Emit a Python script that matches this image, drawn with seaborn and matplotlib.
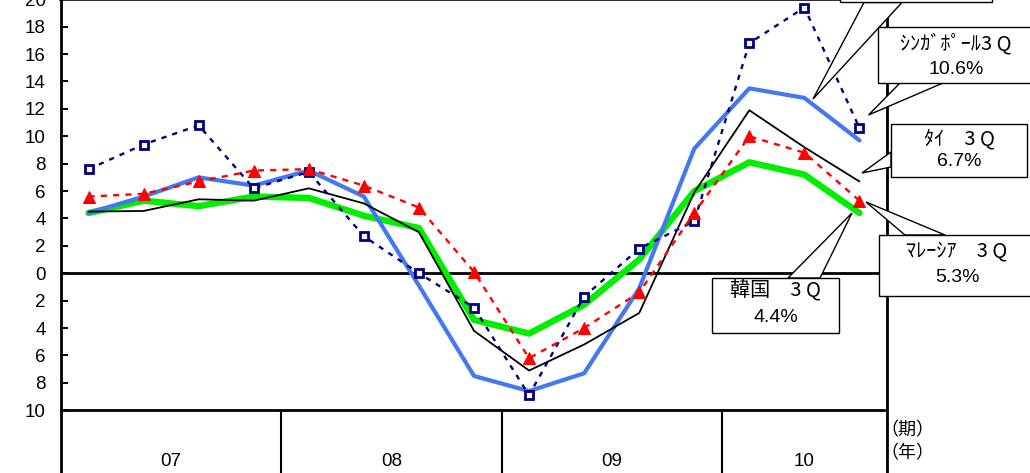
import matplotlib
matplotlib.use('Agg')
import matplotlib.pyplot as plt
import seaborn as sns
import pandas as pd
from matplotlib.patches import Polygon, Rectangle

# ---------------- data ----------------
quarters = ['07Q1', '07Q2', '07Q3', '07Q4', '08Q1', '08Q2', '08Q3', '08Q4',
            '09Q1', '09Q2', '09Q3', '09Q4', '10Q1', '10Q2', '10Q3']
years = ['07', '08', '09', '10']
year_quarters = [4, 4, 4, 3]

singapore = [7.6, 9.4, 10.8, 6.2, 7.4, 2.7, 0.0, -2.5, -8.9, -1.7, 1.8, 3.8, 16.8, 19.4, 10.6]
blue_series = [4.4, 5.6, 7.0, 6.4, 7.5, 5.6, -0.9, -7.5, -8.6, -7.3, -1.1, 9.1, 13.5, 12.8, 9.7]
thailand = [4.5, 4.55, 5.4, 5.3, 6.2, 5.1, 3.0, -4.2, -7.1, -5.2, -2.9, 5.9, 11.9, 9.2, 6.7]
malaysia = [5.6, 5.8, 6.7, 7.5, 7.6, 6.4, 4.8, 0.1, -6.2, -4.0, -1.4, 4.4, 10.0, 8.8, 5.3]
korea = [4.4, 5.3, 4.9, 5.6, 5.5, 4.2, 3.3, -3.4, -4.4, -2.3, 1.0, 6.0, 8.1, 7.2, 4.4]

y_ticks = list(range(-10, 21, 2))
y_tick_labels = [str(abs(v)) for v in y_ticks]

callout_lines = {
    'singapore': ['ｼﾝｶﾞﾎﾟｰﾙ3 Q', '10.6%'],
    'thailand': ['ﾀｲ　3 Q', '6.7%'],
    'malaysia': ['ﾏﾚｰｼｱ　3 Q', '5.3%'],
    'korea': ['韓国　3 Q', '4.4%'],
}
axis_unit_labels = ['（期）', '（年）']

# ---------------- figure ----------------
sns.set_theme(style='white')
plt.rcParams['font.family'] = ['Liberation Sans', 'Noto Sans CJK JP', 'DejaVu Sans']
JP = ['Noto Sans CJK JP', 'DejaVu Sans']

W, H = 1030, 473
fig = plt.figure(figsize=(W / 100, H / 100), dpi=100)
fig.patch.set_facecolor('white')
ax = fig.add_axes([61 / W, 0, 826 / W, (H + 0.7) / H])
ax.set_facecolor('white')

df = pd.DataFrame({'q': range(len(quarters)), 'label': quarters,
                   'singapore': singapore, 'blue': blue_series,
                   'thailand': thailand, 'malaysia': malaysia, 'korea': korea})

sns.lineplot(data=df, x='q', y='korea', ax=ax, color='#00ee00', lw=4.6,
             solid_capstyle='round', zorder=3)
sns.lineplot(data=df, x='q', y='blue', ax=ax, color='#4477f2', lw=3.0,
             solid_capstyle='round', zorder=4)
sns.lineplot(data=df, x='q', y='thailand', ax=ax, color='black', lw=1.3, zorder=5)
sns.lineplot(data=df, x='q', y='singapore', ax=ax, color='#000080', lw=1.7,
             marker='s', markersize=6, markerfacecolor='white',
             markeredgecolor='#000080', markeredgewidth=2.0, zorder=6)
ax.lines[-1].set_dashes((2.2, 2.6))
sns.lineplot(data=df, x='q', y='malaysia', ax=ax, color='#ff0000', lw=1.7,
             marker='^', markersize=8, markerfacecolor='#ff0000',
             markeredgecolor='#ff0000', zorder=7)
ax.lines[-1].set_dashes((2.6, 2.6))

ymin = -14.58
ax.set_xlim(-0.5, len(quarters) - 0.5)
ax.set_ylim(ymin, 20)
ax.set_xlabel('')
ax.set_ylabel('')
ax.set_xticks([])
ax.set_yticks(y_ticks)
ax.set_yticklabels(y_tick_labels)
ax.tick_params(axis='y', direction='in', length=5, width=1.4, pad=11,
               labelsize=13.5, colors='black', left=True)

ax.spines['bottom'].set_visible(False)
ax.spines['left'].set_linewidth(2)
ax.spines['right'].set_linewidth(2)
ax.spines['top'].set_linewidth(2.6)
for s in ax.spines.values():
    s.set_color('black')

ax.axhline(0, color='black', lw=2, zorder=2)
ax.axhline(-10, color='black', lw=2, zorder=2)

# year category band
start = 0
for n, yr in zip(year_quarters, years):
    a, b = start, start + n - 1
    ax.text((a + b) / 2, -13.75, yr, ha='center', va='center', fontsize=13.5,
            color='black')
    if a > 0:
        ax.vlines(a - 0.5, ymin, -10, color='black', lw=1.5)
    start += n


def P(x, y):
    return (x / W, 1 - y / H)


def callout(box, tip, base, lines, text_y, zorder=20):
    x0, y0, x1, y1 = box
    poly = Polygon([P(*tip), P(*base[0]), P(*base[1])], closed=True,
                   transform=fig.transFigure, facecolor='white',
                   edgecolor='black', lw=1.0, zorder=zorder, clip_on=False)
    ax.add_patch(poly)
    rect = Rectangle(P(x0, y1), (x1 - x0) / W, (y1 - y0) / H,
                     transform=fig.transFigure, facecolor='white',
                     edgecolor='black', lw=1.0, zorder=zorder + 1, clip_on=False)
    ax.add_patch(rect)
    if lines:
        cx = (x0 + x1) / 2
        ax.text(*P(cx, text_y[0]), lines[0], transform=fig.transFigure,
                ha='center', va='center', fontsize=14.5, family=JP,
                zorder=zorder + 2, color='black')
        ax.text(*P(cx, text_y[1]), lines[1], transform=fig.transFigure,
                ha='center', va='center', fontsize=14, zorder=zorder + 2,
                color='black')


# top (cut off) callout for the blue line
callout((840, -60, 992, 2.5), (813, 99), [(864, 2.5), (902, 2.5)], None, None)
callout((878, 27, 1034, 83), (868.5, 115), [(900, 83), (943, 83)],
        callout_lines['singapore'], (44, 69))
callout((891, 124, 1027, 177), (862, 173), [(891, 152), (891, 167)],
        callout_lines['thailand'], (139, 162))
callout((879, 235, 1035, 296), (866, 202), [(905, 235), (945, 235)],
        callout_lines['malaysia'], (252, 277))
callout((712, 278, 839, 333), (852, 213), [(788, 278), (820, 278)],
        callout_lines['korea'], (291, 317))

fig.text(*P(880, 430), axis_unit_labels[0], ha='left', va='center',
         fontsize=13, family=JP, color='black')
fig.text(*P(880, 453), axis_unit_labels[1], ha='left', va='center',
         fontsize=13, family=JP, color='black')

fig.savefig('out.png', dpi=100, facecolor='white')
